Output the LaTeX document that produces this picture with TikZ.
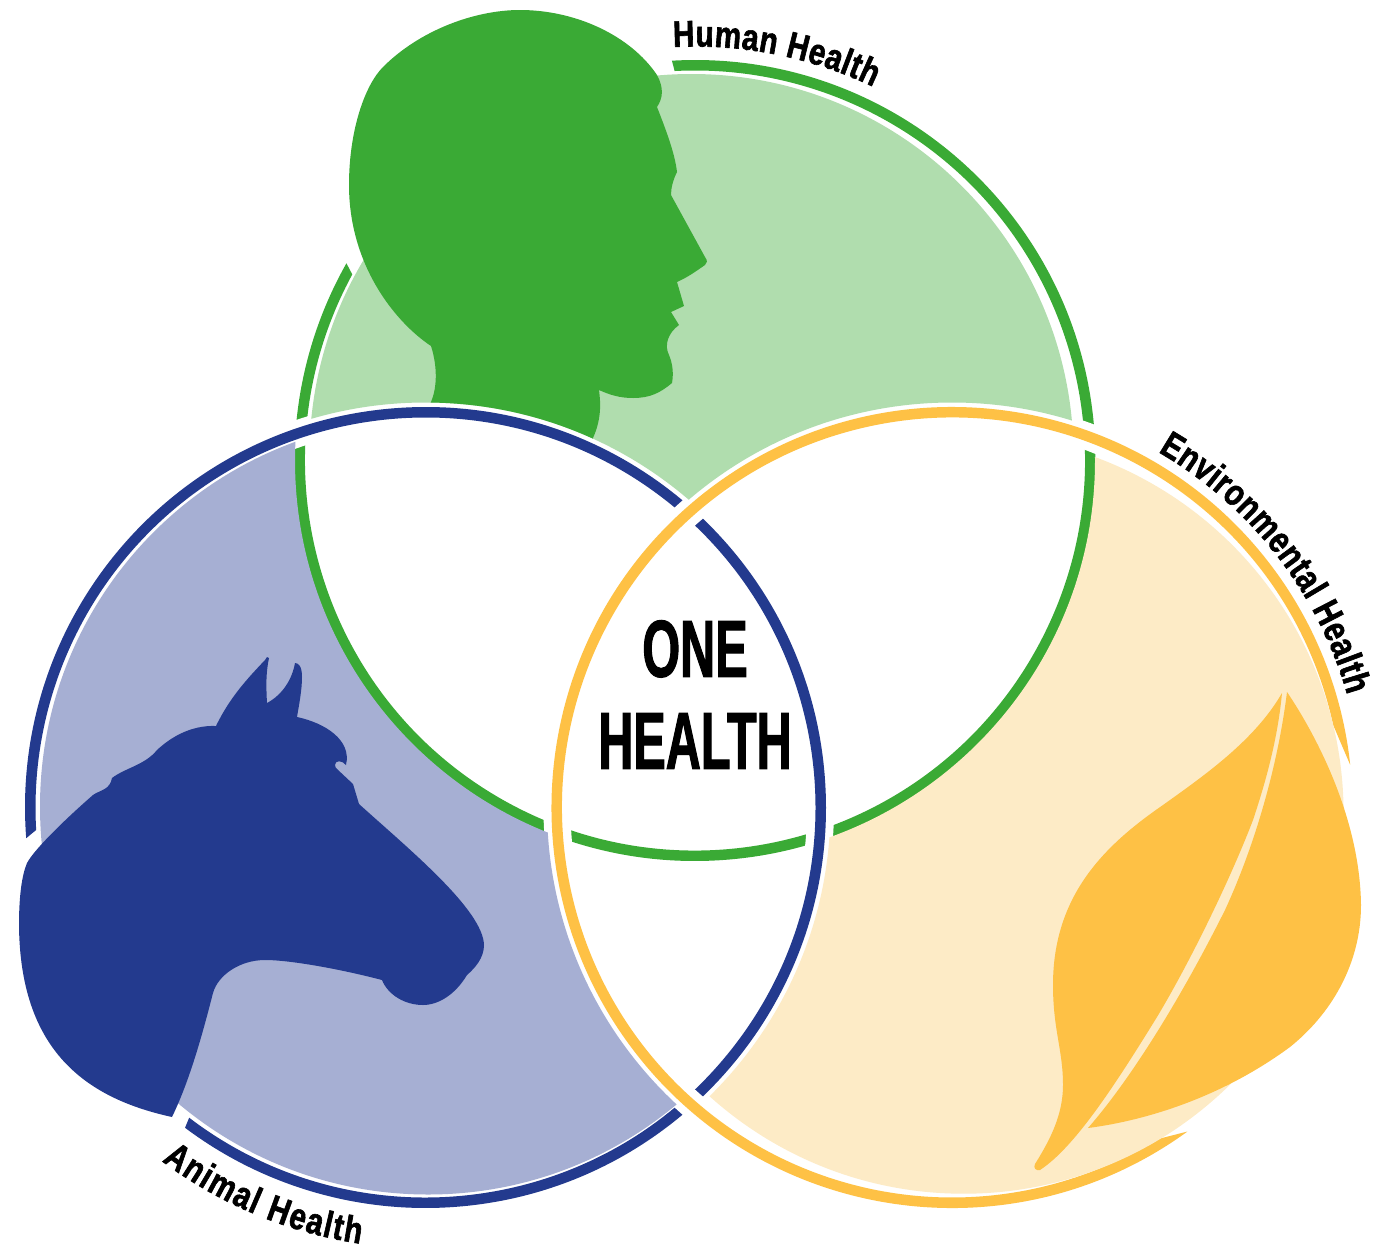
\documentclass[tikz,border=0pt]{standalone}
\usepackage{fontspec}
\usetikzlibrary{decorations.text,calc}
\newfontfamily\titlefont[FakeStretch=0.6,FakeBold=1.2]{Liberation Sans Bold}
\newfontfamily\lblfont[FakeStretch=0.8,FakeBold=1.6]{Liberation Sans Bold}
\definecolor{gD}{HTML}{3AAA35}\definecolor{gL}{HTML}{B0DDAE}
\definecolor{bD}{HTML}{233A8E}\definecolor{bL}{HTML}{A6AFD3}
\definecolor{yD}{HTML}{FEC145}\definecolor{yL}{HTML}{FDEBC6}
\def\GC{695,460.5}\def\BC{425.5,807.5}\def\YC{952,807.5}
\tikzset{
  eoclip/.code={\pgfseteorule},
  halo/.style={draw=white,line width=27pt,line cap=butt},
  curvelabel/.style={decorate,decoration={text along path,text={|\lblfont\fontsize{37}{37}\selectfont|#1},text align={fit to path}}},
}
% exclude a disk from everything that follows in the scope
\newcommand{\exclude}[2]{\clip[eoclip] (-20,-20) rectangle (1400,1300) (#1) circle[radius=#2];}
% ring band: outer arc a1->a2, straight cut, inner arc a3->a4
\newcommand{\ringband}[6]{\fill[#2] (#1) ++(#3:400.5) arc[start angle=#3,end angle=#4,radius=400.5] -- ($(#1)+(#5:390)$) arc[start angle=#5,end angle=#6,radius=390] -- cycle;}
\begin{document}
\begin{tikzpicture}[x=1pt,y=1pt,yscale=-1]
\useasboundingbox (0,0) rectangle (1373,1250);
% rings, lowest first
\ringband{\GC}{gD}{266.7}{569.5}{568.5}{267}
\path[halo] (\BC) ++(175.6:395) arc[start angle=175.6,end angle=486.9,radius=395];
\ringband{\BC}{bD}{175.6}{486.9}{487.3}{176.7}
\path[halo] (\YC) ++(54:395) arc[start angle=54,end angle=353.9,radius=395];
\ringband{\YC}{yD}{54}{353.9}{347.8}{58.3}
% light fills (slightly off-centre inside their rings)
\begin{scope}\exclude{\BC}{405}\exclude{\YC}{405}\fill[gL] (691.5,456) circle[radius=382];\end{scope}
\begin{scope}\exclude{\GC}{400}\exclude{\YC}{405}\fill[bL] (428,806.5) circle[radius=388];\end{scope}
\begin{scope}\exclude{\GC}{400}\exclude{\BC}{405}\fill[yL] (963.6,813.7) circle[radius=380];\end{scope}
% head
\begin{scope}\exclude{\BC}{405}
\fill[gD] (431,346) .. controls (395,322) and (349,265) .. (349,185)
 .. controls (349,130) and (365,85) .. (383,67)
 .. controls (420,30) and (475,10) .. (520,10)
 .. controls (575,10) and (630,35) .. (657,75)
 .. controls (664,88) and (663,98) .. (657,107)
 .. controls (668,135) and (675,155) .. (677,172)
 .. controls (673,180) and (671,188) .. (671,195)
 -- (705,257) .. controls (708,261) and (707,263) .. (705,265)
 .. controls (695,272) and (688,277) .. (677,282)
 -- (684,306) -- (671,312) -- (679,325)
 .. controls (668,333) and (664,345) .. (669,355)
 .. controls (672,362) and (674,372) .. (672,383)
 .. controls (660,393) and (650,398) .. (633,398)
 .. controls (620,398) and (610,395) .. (599,390)
 .. controls (601,405) and (601,420) .. (593,438)
 -- (590,470) -- (420,470) -- (430,404)
 .. controls (437,390) and (438,368) .. (431,346) -- cycle;
\end{scope}
% horse
\fill[bD] (216,726) .. controls (230,697) and (248,678) .. (265,660) -- (267,657) -- (269,658)
 .. controls (266,672) and (266,685) .. (267,703)
 .. controls (282,695) and (292,680) .. (295,663)
 .. controls (299,663) and (302,667) .. (302,677)
 .. controls (302,690) and (299,705) .. (297,717)
 .. controls (325,723) and (352,740) .. (346,765)
 .. controls (342,760) and (335,760) .. (335,765)
 .. controls (335,767) and (336,768) .. (337,769)
 -- (353,784) -- (359,804)
 .. controls (410,850) and (483,910) .. (484,945)
 .. controls (484,958) and (475,968) .. (467,975)
 .. controls (455,995) and (438,1005) .. (423,1005)
 .. controls (405,1005) and (388,995) .. (382,980)
 .. controls (340,969) and (290,960) .. (265,960)
 .. controls (240,960) and (218,975) .. (213,993)
 .. controls (203,1032) and (190,1080) .. (172,1117)
 .. controls (85,1098) and (20,1050) .. (19,925)
 .. controls (19,895) and (22,875) .. (27,863)
 .. controls (35,848) and (70,815) .. (93,795)
 .. controls (100,790) and (110,790) .. (112,778)
 .. controls (125,768) and (145,765) .. (157,750)
 .. controls (170,738) and (190,725) .. (216,726) -- cycle;
% leaf
\fill[yD] (1282,693) .. controls (1255,740) and (1205,775) .. (1163,805)
 .. controls (1105,845) and (1053,895) .. (1053,985)
 .. controls (1053,1030) and (1063,1050) .. (1063,1085)
 .. controls (1063,1115) and (1050,1140) .. (1035,1164)
 .. controls (1033,1168) and (1036,1171) .. (1040,1170)
 .. controls (1075,1147) and (1115,1085) .. (1157,1017)
 .. controls (1190,962) and (1230,880) .. (1253,820)
 .. controls (1268,775) and (1278,735) .. (1282,693) -- cycle;
\fill[yD] (1287,692) .. controls (1318,738) and (1360,820) .. (1361,905)
 .. controls (1361,965) and (1330,1015) .. (1290,1047)
 .. controls (1225,1095) and (1150,1120) .. (1088,1128)
 .. controls (1130,1080) and (1180,1000) .. (1225,910)
 .. controls (1255,845) and (1278,765) .. (1287,692) -- cycle;
% texts
\node[align=center,inner sep=0,font={\titlefont\fontsize{81}{92}\selectfont}] (title) at (695,694.5) {ONE\\HEALTH};
\begin{scope}[yscale=-1]
\path[curvelabel={Human Health}] (695,-460.5) ++(93:414) arc[start angle=93,end angle=64.5,radius=414];
\path[curvelabel={Environmental Health}] (952,-807.5) ++(59.9:411) arc[start angle=59.9,end angle=15.9,radius=411];
\path[curvelabel={Animal Health}] (425.5,-807.5) ++(-126.7:441) arc[start angle=-126.7,end angle=-98.5,radius=441];
\end{scope}
\end{tikzpicture}
\end{document}
